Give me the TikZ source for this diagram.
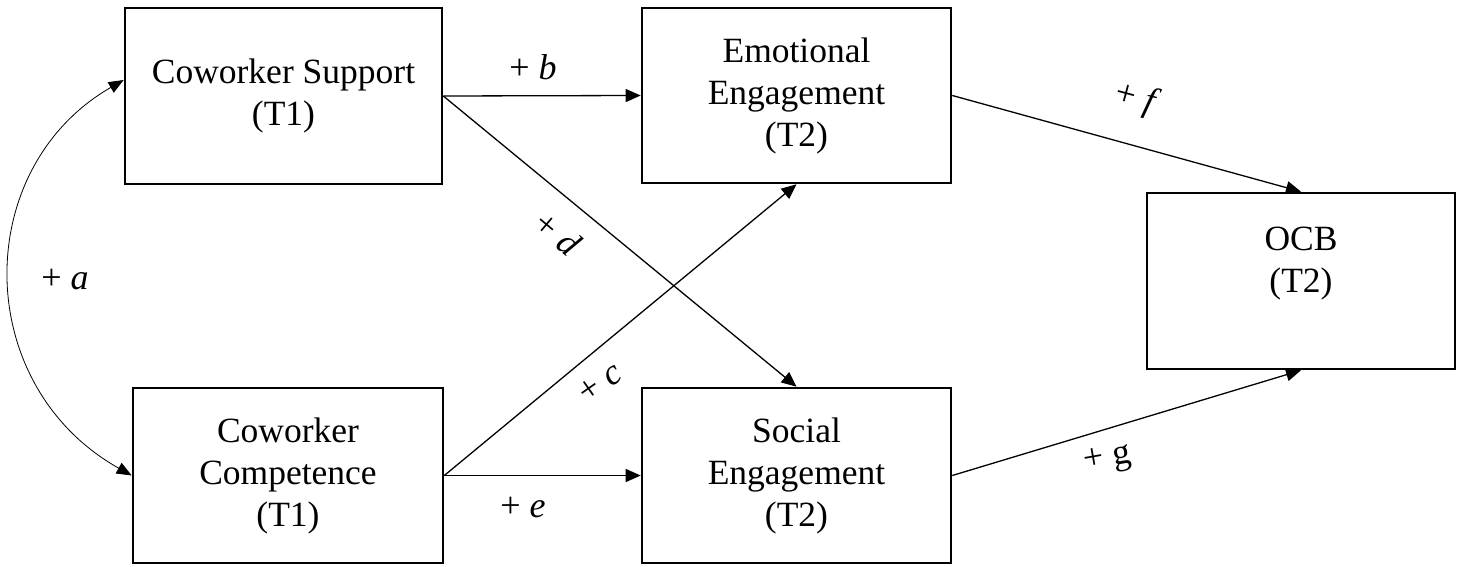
\documentclass[tikz,border=0pt]{standalone}
\usepackage{fontspec}
\setmainfont{Liberation Serif}
\usetikzlibrary{arrows.meta}
\begin{document}
\begin{tikzpicture}[x=1pt,y=1pt,
  box/.style={draw, line width=2.6pt, align=center, inner sep=0pt,
    font=\fontsize{35.5}{42}\selectfont},
  conn/.style={line width=1.3pt, -{Triangle[length=15pt,width=13pt]}},
  lab/.style={font=\fontsize{36}{38}\selectfont, inner sep=0pt}]
\useasboundingbox (0,0) rectangle (1465,-567);
% boxes
\node[box, minimum width=317pt, minimum height=176pt] (sup) at (283.5,-96) {Coworker Support\\(T1)};
\node[box, minimum width=310pt, minimum height=175pt] (comp) at (288,-475.5) {Coworker\\Competence\\(T1)};
\node[box, minimum width=309pt, minimum height=175pt] (emo) at (796.5,-95.5) {Emotional\\Engagement\\(T2)};
\node[box, minimum width=309pt, minimum height=175pt] (soc) at (796.5,-475.5) {Social\\Engagement\\(T2)};
\node[box, minimum width=308pt, minimum height=176pt] (ocb) at (1301,-281) {OCB\\(T2)\\~};
% connectors
\draw[conn] (sup.east) -- (emo.west);
\draw[conn] (sup.east) -- (soc.north);
\draw[conn] (comp.east) -- (emo.south);
\draw[conn] (comp.east) -- (soc.west);
\draw[conn] (emo.east) -- (ocb.north);
\draw[conn] (soc.east) -- (ocb.south);
% correlation curve
\coordinate (aTop) at ([yshift=16pt]sup.west);
\draw[line width=0.8pt, {Triangle[length=15pt,width=12pt]}-{Triangle[length=15pt,width=12pt]}]
  (aTop) .. controls (-29,-168) and (-29,-385) .. (comp.west);
% labels
\node[lab] (la) at (65,-280) {+ \textit{a}};
\node[lab] (lb) at (533,-67) {+ \textit{b}};
\node[lab, rotate=-40] (ld) at (558,-233) {+ \textit{d}};
\node[lab, rotate=35] (lc) at (600,-383) {+ \textit{c}};
\node[lab] (le) at (523,-508) {+ \textit{e}};
\node[lab, rotate=-15] (lf) at (1137,-100) {+ \textit{f}};
\node[lab, rotate=10] (lg) at (1108,-460) {+ g};
\end{tikzpicture}
\end{document}
